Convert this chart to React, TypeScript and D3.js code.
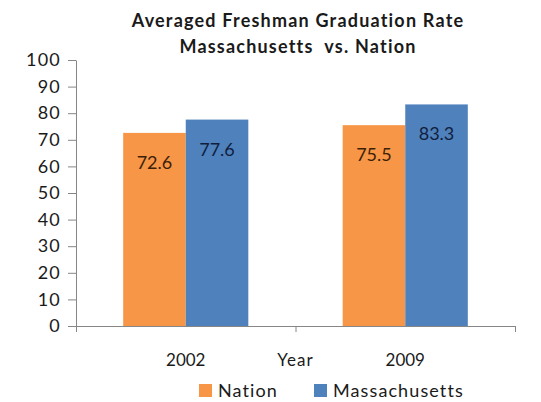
import { useEffect, useRef } from "react";
import * as d3 from "d3";

const years = ["2002", "2009"];
const seriesNames = ["Nation", "Massachusetts"];
const nationValues = [72.6, 75.5];
const massValues = [77.6, 83.3];
const yTicks = [0, 10, 20, 30, 40, 50, 60, 70, 80, 90, 100];
const titleLines = ["Averaged Freshman Graduation Rate", "Massachusetts  vs. Nation"];

const colors: Record<string, string> = { Nation: "#F79646", Massachusetts: "#4F81BD" };
const labelColors: Record<string, string> = { Nation: "#3d1f08", Massachusetts: "#0f1f3d" };

const width = 541;
const height = 402;
const margin = { left: 76, top: 60, right: 26, bottom: 76 };
const font = "Lato, 'Open Sans', sans-serif";

const App = () => {
  const svgRef = useRef<SVGSVGElement | null>(null);

  useEffect(() => {
    if (!svgRef.current) return;
    const svg = d3.select(svgRef.current);
    svg.selectAll("*").remove();

    const innerWidth = width - margin.left - margin.right;
    const innerHeight = height - margin.top - margin.bottom;

    const g = svg.append("g").attr("transform", `translate(${margin.left},${margin.top})`);

    const x0 = d3.scaleBand().domain(years).range([0, innerWidth]).paddingInner(0).paddingOuter(0);
    const groupWidth = x0.bandwidth() * 0.57;
    const x1 = d3
      .scaleBand()
      .domain(seriesNames)
      .range([(x0.bandwidth() - groupWidth) / 2, (x0.bandwidth() + groupWidth) / 2])
      .padding(0);
    const y = d3.scaleLinear().domain([0, 100]).range([innerHeight, 0]);

    const rows = years.map((year, i) => ({
      year,
      values: [
        { key: "Nation", value: nationValues[i] },
        { key: "Massachusetts", value: massValues[i] },
      ],
    }));

    // title
    svg
      .append("text")
      .attr("text-anchor", "middle")
      .attr("font-family", font)
      .attr("font-weight", "bold")
      .attr("font-size", 18)
      .attr("letter-spacing", 1.2)
      .attr("fill", "#1a1a1a")
      .style("white-space", "pre")
      .selectAll("tspan")
      .data(titleLines)
      .enter()
      .append("tspan")
      .attr("x", 298)
      .attr("y", (_d, i) => 27 + i * 26)
      .text((d) => d);

    // y axis
    const yAxis = g
      .append("g")
      .call(d3.axisLeft(y).tickValues(yTicks).tickSize(8).tickSizeOuter(0).tickPadding(7));
    yAxis.select(".domain").attr("stroke", "#868686");
    yAxis.selectAll(".tick line").attr("stroke", "#868686");
    yAxis
      .selectAll("text")
      .attr("font-family", font)
      .attr("font-size", 18)
      .attr("letter-spacing", 1.2)
      .attr("fill", "#1a1a1a");

    // x axis
    const xAxis = g
      .append("g")
      .attr("transform", `translate(0,${innerHeight})`)
      .call(
        d3
          .axisBottom(d3.scaleLinear().domain([0, 2]).range([0, innerWidth]))
          .tickValues([0, 1, 2])
          .tickSize(6)
          .tickSizeOuter(0)
          .tickFormat(() => ""),
      );
    xAxis.select(".domain").attr("stroke", "#868686");
    xAxis.selectAll(".tick line").attr("stroke", "#868686");

    g.selectAll(".xlabel")
      .data(years)
      .enter()
      .append("text")
      .attr("class", "xlabel")
      .attr("x", (d) => (x0(d) as number) + x0.bandwidth() / 2)
      .attr("y", innerHeight + 40)
      .attr("text-anchor", "middle")
      .attr("font-family", font)
      .attr("font-size", 17)
      .attr("fill", "#1a1a1a")
      .text((d) => d);

    g.append("text")
      .attr("x", innerWidth / 2)
      .attr("y", innerHeight + 40)
      .attr("text-anchor", "middle")
      .attr("font-family", font)
      .attr("font-size", 17)
      .attr("letter-spacing", 1)
      .attr("fill", "#1a1a1a")
      .text("Year");

    // bars
    const groups = g
      .selectAll(".group")
      .data(rows)
      .enter()
      .append("g")
      .attr("transform", (d) => `translate(${x0(d.year)},0)`);

    groups
      .selectAll("rect")
      .data((d) => d.values)
      .enter()
      .append("rect")
      .attr("x", (d) => x1(d.key) as number)
      .attr("y", (d) => y(d.value))
      .attr("width", x1.bandwidth())
      .attr("height", (d) => innerHeight - y(d.value))
      .attr("fill", (d) => colors[d.key]);

    groups
      .selectAll(".val")
      .data((d) => d.values)
      .enter()
      .append("text")
      .attr("class", "val")
      .attr("x", (d) => (x1(d.key) as number) + x1.bandwidth() / 2)
      .attr("y", (d) => y(d.value) + 36)
      .attr("text-anchor", "middle")
      .attr("font-family", font)
      .attr("font-size", 18)
      .attr("fill", (d) => labelColors[d.key])
      .text((d) => d.value.toFixed(1));

    // legend
    const legendX = [199, 314];
    const legend = svg
      .append("g")
      .selectAll("g")
      .data(seriesNames)
      .enter()
      .append("g")
      .attr("transform", (_d, i) => `translate(${legendX[i]},384)`);
    legend
      .append("rect")
      .attr("width", 13)
      .attr("height", 13)
      .attr("fill", (d) => colors[d]);
    legend
      .append("text")
      .attr("x", 19)
      .attr("y", 13)
      .attr("font-family", font)
      .attr("font-size", 18)
      .attr("letter-spacing", 1.1)
      .attr("fill", "#1a1a1a")
      .text((d) => d);
  }, []);

  return (
    <svg
      ref={svgRef}
      width={width}
      height={height}
      style={{ position: "absolute", left: 0, top: 0, background: "#fff" }}
    />
  );
};

export default App;
